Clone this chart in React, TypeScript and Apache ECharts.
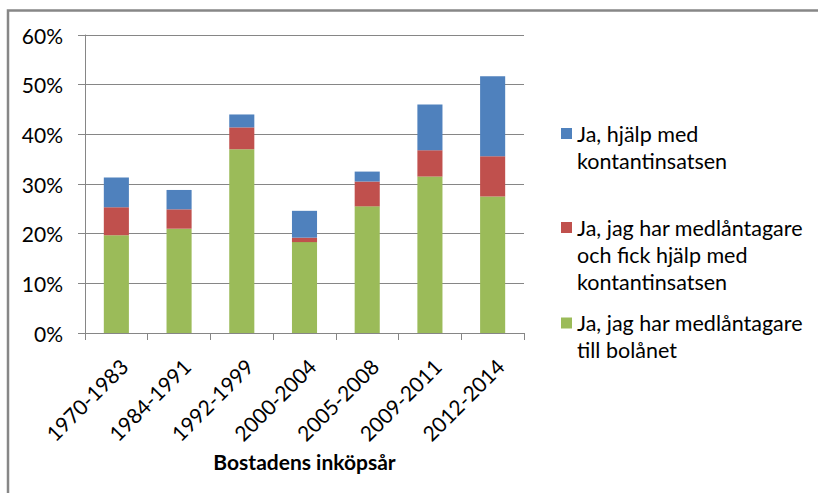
import React, { useEffect, useRef } from "react";
import * as echarts from "echarts";

const categories = ["1970-1983", "1984-1991", "1992-1999", "2000-2004", "2005-2008", "2009-2011", "2012-2014"];
const seriesNames = [
  "Ja, jag har medlåntagare till bolånet",
  "Ja, jag har medlåntagare och fick hjälp med kontantinsatsen",
  "Ja, hjälp med kontantinsatsen",
];
const legendLines = [
  ["Ja, jag har medlåntagare", "till bolånet"],
  ["Ja, jag har medlåntagare", "och fick hjälp med", "kontantinsatsen"],
  ["Ja, hjälp med", "kontantinsatsen"],
];
const coBorrower = [19.7, 21.0, 37.0, 18.3, 25.5, 31.5, 27.5];
const coBorrowerAndHelp = [5.6, 3.9, 4.4, 0.9, 5.0, 5.3, 8.1];
const helpDownPayment = [6.0, 3.9, 2.6, 5.4, 2.0, 9.2, 16.1];
const yTicks = [0, 10, 20, 30, 40, 50, 60];
const xAxisTitle = "Bostadens inköpsår";

const colors = ["#9BBB59", "#C0504D", "#4F81BD"];
const FONT = "Lato";

export default function App() {
  const ref = useRef<HTMLDivElement>(null);
  useEffect(() => {
    if (!ref.current) return;
    const chart = echarts.init(ref.current, undefined, { renderer: "svg" });
    const values = [coBorrower, coBorrowerAndHelp, helpDownPayment];
    const legendTops = [282.5, 160, 93];
    chart.setOption({
      animation: false,
      backgroundColor: "#ffffff",
      grid: { left: 85, right: 294, top: 35, bottom: 160, containLabel: false },
      graphic: [
        {
          type: "polyline",
          shape: { points: [[8, 493], [8, 10.5], [818, 10.5]] },
          style: { stroke: "#878787", lineWidth: 2.5, fill: "none" },
          silent: true,
        },
      ],
      legend: [0, 1, 2].map((i) => ({
        data: [seriesNames[i]],
        left: 561,
        top: legendTops[i],
        orient: "vertical",
        padding: 0,
        itemWidth: 11,
        itemHeight: 11,
        icon: "rect",
        selectedMode: false,
        formatter: () => {
          const lines = legendLines[i];
          const blanks = new Array(lines.length - 1).fill(" ");
          return blanks.concat(lines).join("\n");
        },
        textStyle: {
          fontFamily: FONT,
          fontSize: 21.5,
          lineHeight: 27,
          color: "#000",
        },
      })),
      xAxis: {
        type: "category",
        data: categories,
        name: xAxisTitle,
        nameLocation: "middle",
        nameGap: 113,
        nameTextStyle: { fontFamily: FONT, fontSize: 21, fontWeight: "bold", color: "#000" },
        axisLine: { lineStyle: { color: "#868686", width: 1 } },
        axisTick: { show: true, length: 7, lineStyle: { color: "#868686" } },
        axisLabel: {
          rotate: 45,
          margin: 22,
          align: "right",
          verticalAlign: "top",
          interval: 0,
          fontFamily: FONT,
          fontSize: 21,
          color: "#000",
        },
      },
      yAxis: {
        type: "value",
        min: yTicks[0],
        max: yTicks[yTicks.length - 1],
        interval: 10,
        axisLine: { show: true, lineStyle: { color: "#868686", width: 1 } },
        axisTick: { show: true, length: 7, lineStyle: { color: "#868686" } },
        splitLine: { show: true, lineStyle: { color: "#868686", width: 1 } },
        axisLabel: {
          formatter: "{value}%",
          margin: 22,
          fontFamily: FONT,
          fontSize: 21,
          color: "#000",
        },
      },
      series: [0, 1, 2].map((i) => ({
        name: seriesNames[i],
        type: "bar",
        stack: "total",
        data: values[i],
        barWidth: "40%",
        itemStyle: { color: colors[i] },
      })),
    });
    return () => chart.dispose();
  }, []);
  return (
    <div
      ref={ref}
      style={{ position: "absolute", left: 0, top: 0, width: 818, height: 493, background: "#fff" }}
    />
  );
}
